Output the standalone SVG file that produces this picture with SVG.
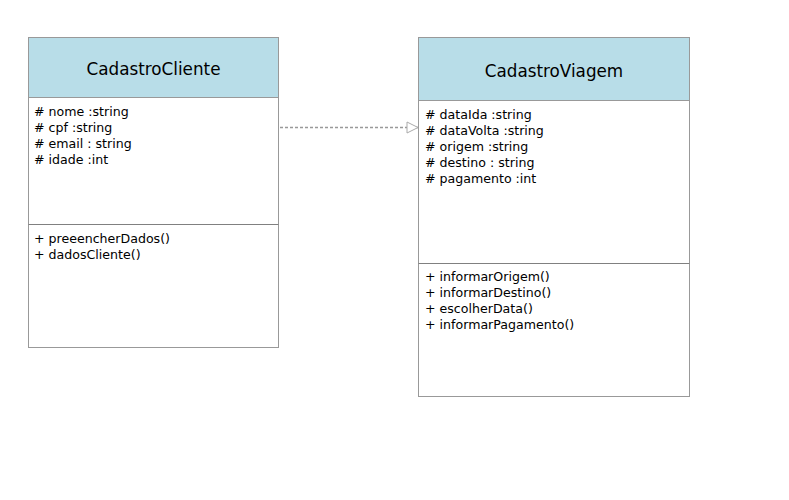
<svg xmlns="http://www.w3.org/2000/svg" width="789" height="500" viewBox="0 0 789 500">
  <style>
    .box { fill: #ffffff; stroke: #999999; stroke-width: 1; }
    .head { fill: #b8dde8; stroke: #999999; stroke-width: 1; }
    .sep { stroke: #808080; stroke-width: 1; }
    .title { font-family: "DejaVu Sans", Verdana, sans-serif; font-size: 16.8px; fill: #000000; text-anchor: middle; }
    .item { font-family: "DejaVu Sans", Verdana, sans-serif; font-size: 12.6px; fill: #000000; }
    .dep { stroke: #999999; stroke-width: 1.5; stroke-dasharray: 3 2; fill: none; }
  </style>
  <defs>
    <marker id="openArrow" markerWidth="14" markerHeight="14" refX="12" refY="7" orient="auto" markerUnits="userSpaceOnUse">
      <path d="M1,1.5 L12,7 L1,12.5 Z" fill="#ffffff" stroke="#aaaaaa" stroke-width="1"/>
    </marker>
  </defs>
  <rect width="789" height="500" fill="#ffffff"/>

  <g id="CadastroCliente">
    <rect class="box" x="28.5" y="37.5" width="250" height="310"/>
    <rect class="head" x="28.5" y="37.5" width="250" height="60"/>
    <text class="title" x="153.5" y="75">CadastroCliente</text>
    <text class="item" x="34" y="116"># nome :string</text>
    <text class="item" x="34" y="132"># cpf :string</text>
    <text class="item" x="34" y="148"># email :  string</text>
    <text class="item" x="34" y="164"># idade :int</text>
    <line class="sep" x1="28.5" y1="224.5" x2="278.5" y2="224.5"/>
    <text class="item" x="34" y="243">+ preeencherDados()</text>
    <text class="item" x="34" y="259">+ dadosCliente()</text>
  </g>

  <g id="CadastroViagem">
    <rect class="box" x="418.5" y="37.5" width="271" height="359"/>
    <rect class="head" x="418.5" y="37.5" width="271" height="63"/>
    <text class="title" x="554" y="77">CadastroViagem</text>
    <text class="item" x="425" y="119"># dataIda :string</text>
    <text class="item" x="425" y="135"># dataVolta :string</text>
    <text class="item" x="425" y="151"># origem :string</text>
    <text class="item" x="425" y="167"># destino :  string</text>
    <text class="item" x="425" y="183"># pagamento :int</text>
    <line class="sep" x1="418.5" y1="263.5" x2="689.5" y2="263.5"/>
    <text class="item" x="425" y="281">+ informarOrigem()</text>
    <text class="item" x="425" y="297">+ informarDestino()</text>
    <text class="item" x="425" y="313">+ escolherData()</text>
    <text class="item" x="425" y="329">+ informarPagamento()</text>
  </g>

  <g id="connectors">
    <line class="dep" x1="280" y1="127.5" x2="418" y2="127.5" marker-end="url(#openArrow)"/>
  </g>
</svg>
